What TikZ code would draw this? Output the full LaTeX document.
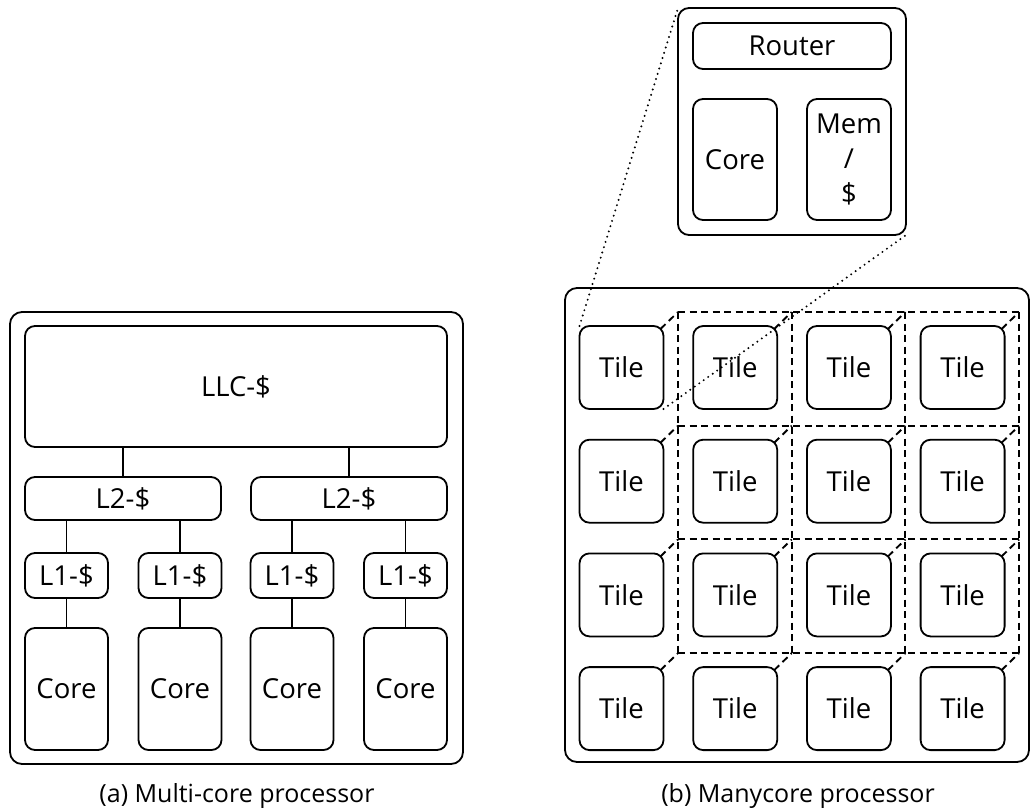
\documentclass[tikz,border=0pt]{standalone}
\usepackage{fontspec}
\setmainfont{Open Sans}
\usetikzlibrary{calc}
\begin{document}
\begin{tikzpicture}[x=1pt,y=-1pt,
  box/.style={draw, line width=1.8pt, rounded corners=10pt, inner sep=0pt, outer sep=0pt, font=\fontsize{27.5}{35}\selectfont, align=center},
  outerbox/.style={draw, line width=1.8pt, rounded corners=12pt, inner sep=0pt, outer sep=0pt},
  link/.style={line width=1.6pt},
  gridline/.style={line width=1.9pt, dash pattern=on 7pt off 4.5pt},
  zoomline/.style={line width=2.2pt, dash pattern=on 0pt off 5.5pt, line cap=round},
  caption/.style={font=\fontsize{25}{30}\selectfont, inner sep=0pt}]
\useasboundingbox (0,0) rectangle (1032,811);

% ---------- (a) Multi-core ----------
\node[outerbox, minimum width=453pt, minimum height=452pt] (outerA) at (236.5,538) {};
\node[box, minimum width=422pt, minimum height=121pt] (LLC) at (236,386.5) {LLC-\$};
\node[box, minimum width=196pt, minimum height=43pt] (L2a) at (123,498.5) {L2-\$};
\node[box, minimum width=196pt, minimum height=43pt] (L2b) at (349,498.5) {L2-\$};
\foreach \n/\x in {a/66.5,b/180,c/292,d/405.5}{
  \node[box, minimum width=83pt, minimum height=45pt] (L1\n) at (\x,575.5) {L1-\$};
  \node[box, minimum width=83pt, minimum height=122pt] (Core\n) at (\x,689) {Core};
  \draw[link] (L1\n.south) -- (Core\n.north);
}
\draw[link] (LLC.south -| L2a.north) -- (L2a.north);
\draw[link] (LLC.south -| L2b.north) -- (L2b.north);
\draw[link] (L2a.south -| L1a.north) -- (L1a.north);
\draw[link] (L2a.south -| L1b.north) -- (L1b.north);
\draw[link] (L2b.south -| L1c.north) -- (L1c.north);
\draw[link] (L2b.south -| L1d.north) -- (L1d.north);
\node[caption] (capA) at (237,796) {(a) Multi-core processor};

% ---------- (b) Manycore ----------
\node[outerbox, minimum width=464pt, minimum height=474pt] (outerB) at (797,525) {};
\foreach \c in {1,...,4}{
  \foreach \r in {1,...,4}{
    \node[box, minimum width=84pt, minimum height=83pt] (t\c\r) at ({621.5+113.7*(\c-1)},{367.5+113.7*(\r-1)}) {Tile};
    \coordinate (g\c\r) at ({678+113.7*(\c-1)},{312+113.7*(\r-1)});
  }
}
\foreach \k in {1,...,4}{
  \draw[gridline] (g1\k) -- (g4\k);
  \draw[gridline] (g\k1) -- (g\k4);
}
\foreach \c in {1,...,4}{
  \foreach \r in {1,...,4}{
    \draw[gridline] ([shift={(-3pt,-3pt)}]t\c\r.north east) -- (g\c\r);
  }
}

% zoomed tile
\node[box, minimum width=228pt, minimum height=227pt, rounded corners=11pt] (zbox) at (792,121.5) {};
\node[box, minimum width=198pt, minimum height=46pt] (router) at (792,46) {Router};
\node[box, minimum width=84pt, minimum height=121pt] (zcore) at (735,159.5) {Core};
\node[box, minimum width=84pt, minimum height=121pt] (zmem) at (849,159.5) {Mem\\/\\\$};
\draw[zoomline] (t11.north west) -- (zbox.north west);
\draw[zoomline] (t11.south east) -- (zbox.south east);

\node[caption] (capB) at (798,796) {(b) Manycore processor};
\end{tikzpicture}
\end{document}
